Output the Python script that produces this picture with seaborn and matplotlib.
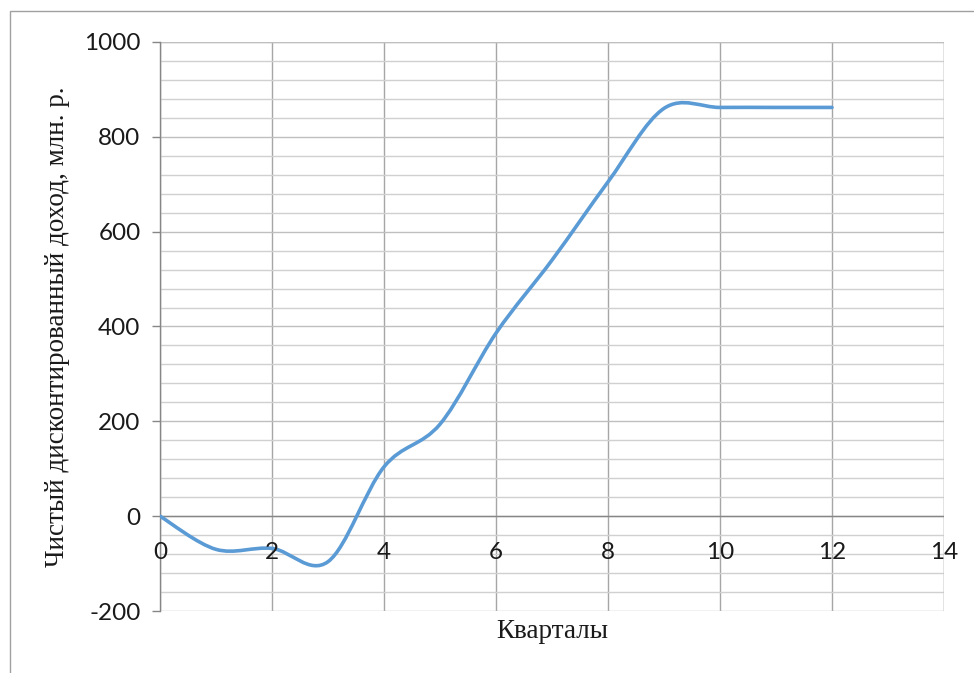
import numpy as np
import matplotlib.pyplot as plt
import seaborn as sns
from matplotlib.path import Path
from matplotlib.patches import PathPatch, Rectangle
from matplotlib.ticker import MultipleLocator

# квартал -> чистый дисконтированный доход, млн. р.
quarters = [0, 1, 2, 3, 4, 5, 6, 7, 8, 9, 10, 11, 12]
npv = [0, -70, -68, -96, 104, 194, 386, 540, 705, 860, 862, 862, 862]
x_ticks = [0, 2, 4, 6, 8, 10, 12, 14]

x_label = "Кварталы"
y_label = "Чистый дисконтированный доход, млн. р."

sns.set_style("white")
plt.rcParams['font.family'] = ['Lato', 'DejaVu Sans']
plt.rcParams['axes.unicode_minus'] = False

fig = plt.figure(figsize=(9.74, 6.73), dpi=100)
ax = fig.add_axes([160 / 974, 1 - 611 / 673, (944 - 160) / 974, (611 - 42) / 673])

# сглаженная линия как в Excel (кривые Безье через точки)
pts = np.column_stack([quarters, npv]).astype(float)
ext = np.vstack([pts[0], pts, pts[-1]])
verts = [tuple(pts[0])]
codes = [Path.MOVETO]
for i in range(len(pts) - 1):
    p0, p1, p2, p3 = ext[i], ext[i + 1], ext[i + 2], ext[i + 3]
    c1 = p1 + (p2 - p0) / 6
    c2 = p2 - (p3 - p1) / 6
    verts += [tuple(c1), tuple(c2), tuple(p2)]
    codes += [Path.CURVE4] * 3
ax.add_patch(PathPatch(Path(verts, codes), facecolor='none', edgecolor='#5B9BD5',
                       lw=2.6, capstyle='round', joinstyle='round', zorder=3))

ax.set_xlim(0, 14)
ax.set_ylim(-200, 1000)
ax.set_xticks(x_ticks)
ax.yaxis.set_major_locator(MultipleLocator(200))
ax.yaxis.set_minor_locator(MultipleLocator(40))

ax.grid(True, axis='x', which='major', color='#A6A6A6', lw=1.0)
ax.grid(True, axis='y', which='major', color='#BFBFBF', lw=1.0)
ax.grid(True, axis='y', which='minor', color='#D0D0D0', lw=1.0)
ax.set_axisbelow(True)

for side in ['top', 'right', 'bottom']:
    ax.spines[side].set_visible(False)
ax.spines['left'].set_color('#868686')
ax.spines['left'].set_linewidth(1.0)
ax.axhline(0, color='#868686', lw=1.0, zorder=2)
ax.axvline(14, color='#BFBFBF', lw=1.0, zorder=1)
ax.axhline(1000, color='#BFBFBF', lw=1.0, zorder=1)

ax.tick_params(axis='y', which='major', direction='out', length=6, width=1.0,
               color='#868686', left=True, labelsize=17.5, pad=8, labelcolor='#1a1a1a')
ax.tick_params(axis='y', which='minor', length=0)
ax.tick_params(axis='x', length=0, labelbottom=False)

# подписи оси X у нулевой линии
for xv in x_ticks:
    ax.annotate(str(xv), xy=(xv, 0), xycoords='data', xytext=(0, -26),
                textcoords='offset pixels', ha='center', va='top',
                fontsize=17.5, color='#1a1a1a')

ax.set_xlabel(x_label, family='Liberation Serif', fontsize=19.5, color='#1a1a1a', labelpad=6)
ax.set_ylabel(y_label, family='Liberation Serif', fontsize=19.5, color='#1a1a1a', labelpad=10)

fig.patches.append(Rectangle((9.5 / 974, -0.1), 1.2, 1.1 - 11.5 / 673, transform=fig.transFigure,
                             facecolor='none', edgecolor='#A0A0A0', lw=1.0))

fig.savefig('out.png', dpi=100)
